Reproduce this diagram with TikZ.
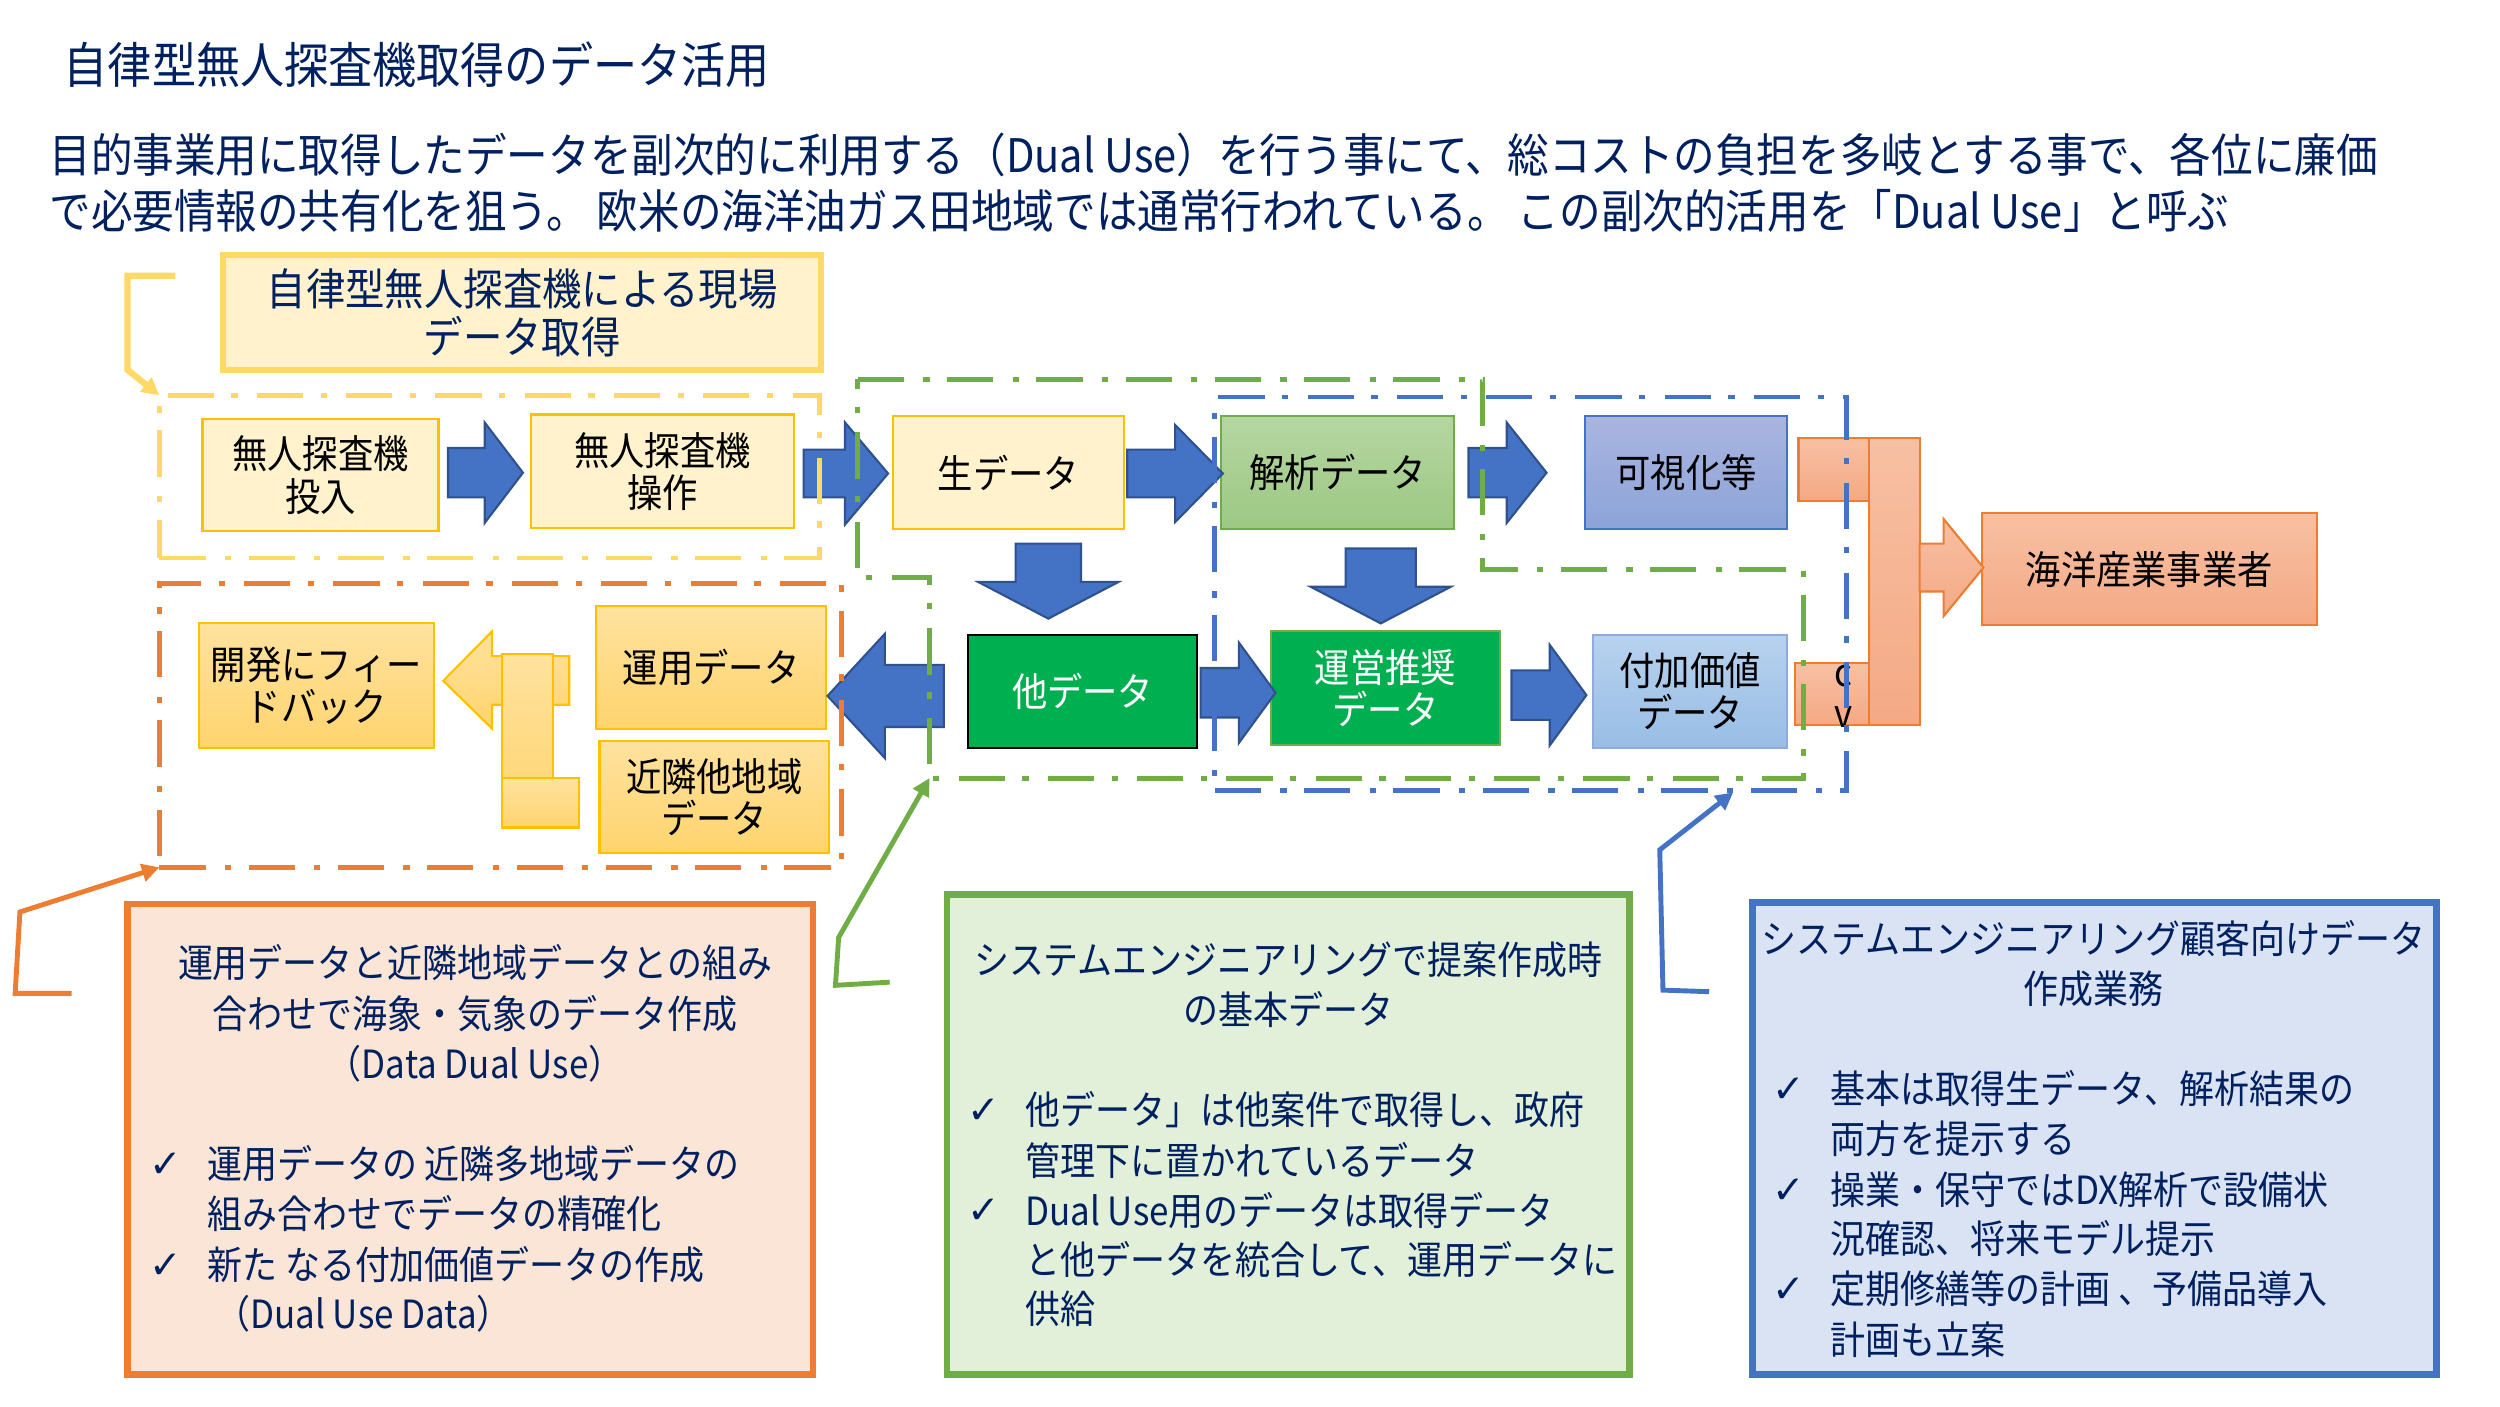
\documentclass[tikz,border=0pt]{standalone}
\usepackage{fontspec}
\setmainfont[FakeStretch=0.9]{Noto Sans CJK JP}
\newfontfamily\chkfont{DejaVu Sans}
\usetikzlibrary{calc,arrows.meta}
\definecolor{cNavy}{HTML}{002060}
\definecolor{cYel}{HTML}{FFD966}
\definecolor{cGold}{HTML}{FFC000}
\definecolor{cCream}{HTML}{FFF2CC}
\definecolor{cOrg}{HTML}{ED7D31}
\definecolor{cGrn}{HTML}{70AD47}
\definecolor{cBlu}{HTML}{4472C4}
\definecolor{cBluD}{HTML}{2F528F}
\definecolor{cDG}{HTML}{00B050}
\definecolor{cOFill}{HTML}{FBE5D6}
\definecolor{cGFill}{HTML}{E2F0D9}
\definecolor{cBFill}{HTML}{DAE3F3}
\definecolor{anaT}{HTML}{B5D6A1}
\definecolor{anaB}{HTML}{9CC883}
\definecolor{visT}{HTML}{AAB5E0}
\definecolor{visB}{HTML}{8CA3D8}
\definecolor{addT}{HTML}{B8D2EE}
\definecolor{addB}{HTML}{98BDE5}
\definecolor{goldT}{HTML}{FFE29E}
\definecolor{goldB}{HTML}{FFD46E}
\definecolor{salT}{HTML}{F7C0A2}
\definecolor{salB}{HTML}{F4A985}
\newcommand\mycheck{{\chkfont ✓}}
% block arrow: #1 origin (tail centre), #2 rotation, #3 length, #4 shaft half, #5 head half, #6 head length, #7 style
\newcommand\BArrow[7]{\path[#7,shift={#1},rotate=#2] (0,-#4) -- ({#3-#6},-#4) -- ({#3-#6},-#5) -- (#3,0) -- ({#3-#6},#5) -- ({#3-#6},#4) -- (0,#4) -- cycle;}
\tikzset{
  every node/.style={inner sep=0pt,outer sep=0pt},
  sz/.style 2 args={minimum width=#1*0.016cm,minimum height=#2*0.016cm},
  tx/.style={text=cNavy,text height=0.88em,text depth=0.12em},
  inbox/.style={align=center,text=black,line width=0.6pt,font=\fontsize{11.2}{12}\selectfont},
  ybox/.style={inbox,draw=cGold,fill=cCream},
  anabox/.style={inbox,draw=cGrn,top color=anaT,bottom color=anaB},
  visbox/.style={inbox,draw=cBlu,top color=visT,bottom color=visB},
  addbox/.style={inbox,draw=cBlu!60,top color=addT,bottom color=addB},
  dgbox/.style={inbox,fill=cDG,text=white},
  goldbox/.style={inbox,draw=cGold,top color=goldT,bottom color=goldB},
  salbox/.style={inbox,draw=cOrg,top color=salT,bottom color=salB},
  goldshape/.style={draw=cGold,line width=0.6pt,top color=goldT,bottom color=goldB},
  salshape/.style={draw=cOrg,line width=0.6pt,top color=salT,bottom color=salB},
  barrow/.style={fill=cBlu,draw=cBluD,line width=0.6pt},
  ddline/.style={line width=1.4pt,dash pattern=on 13.2pt off 5.5pt on 1.8pt off 5pt},
  bt/.style={tx,font=\fontsize{11.1}{12}\selectfont},
  ck/.style={text=cNavy,font=\fontsize{11.1}{12}\selectfont},
  conn/.style={line width=1.4pt,-{Triangle[length=5pt,width=5pt]}}
}
\begin{document}
\begin{tikzpicture}[x=0.016cm,y=-0.016cm]
\fill[white] (0,0) rectangle (1568,882);
\path[use as bounding box] (0,0) rectangle (1568,882);

% heading and paragraph
\node[tx,anchor=west,font=\fontsize{14}{16}\selectfont] (title) at (40,44) {自律型無人探査機取得のデータ活用};
\node[tx,anchor=west,font=\fontsize{13.2}{15}\selectfont] (para1) at (31,100) {目的事業用に取得したデータを副次的に利用する（Dual Use）を行う事にて、総コストの負担を多岐とする事で、各位に廉価};
\node[tx,anchor=west,font=\fontsize{13.2}{15}\selectfont] (para2) at (31,135) {で必要情報の共有化を狙う。 欧米の海洋油ガス田地域では通常行われている。 この副次的活用を「Dual Use」と呼ぶ};

% title box
\node[draw=cYel,fill=cCream,line width=1.8pt,sz={375}{72},align=center,text=cNavy,font=\fontsize{12.5}{13.7}\selectfont] (ttlbox) at (327.5,196) {自律型無人探査機による現場\\データ取得};

% process boxes
\node[ybox,sz={148}{70}] (launch) at (201,298) {無人探査機\\投入};
\node[ybox,sz={165}{71}] (oper) at (415.5,295.5) {無人探査機\\操作};
\node[ybox,sz={145}{71}] (raw) at (632.5,296.5) {生データ};
\node[anabox,sz={146}{71}] (ana) at (839,296.5) {解析データ};
\node[visbox,sz={127}{71}] (vis) at (1057.5,296.5) {可視化等};
\node[dgbox,draw=black,sz={144}{71}] (other) at (679,433.5) {他データ};
\node[dgbox,draw=cGrn,sz={144}{71}] (rec) at (869,431.5) {運営推奨\\データ};
\node[addbox,sz={122}{71}] (added) at (1060,433.5) {付加価値\\データ};
\node[goldbox,sz={147}{78}] (feed) at (198.5,430) {開発にフィー\\ドバック};
\node[goldbox,sz={144}{77}] (opdata) at (446,418.5) {運用データ};
\node[goldbox,sz={144}{70}] (near) at (448,500) {近隣他地域\\データ};
\node[salbox,sz={210}{70}] (sea) at (1348,357) {海洋産業事業者};

% block arrows
\BArrow{($(launch.east)+(6,-1.5)$)}{0}{47}{15.5}{31.5}{24}{barrow}
\BArrow{($(oper.east)+(6,1.5)$)}{0}{53}{15}{32}{27}{barrow}
\BArrow{($(raw.east)+(2,0.5)$)}{0}{60}{15}{30.5}{30}{barrow}
\BArrow{($(ana.east)+(9,0)$)}{0}{49}{15.5}{31.5}{25}{barrow}
\BArrow{($(raw.south)+(25,9)$)}{-90}{47}{20.5}{44}{23}{barrow}
\BArrow{($(ana.south)+(27,12)$)}{-90}{47}{22}{44}{23}{barrow}
\BArrow{($(other.east)+(2,1)$)}{0}{47}{15.5}{31.5}{23}{barrow}
\BArrow{($(rec.east)+(7,4.5)$)}{0}{47}{15.5}{31.5}{23}{barrow}
\BArrow{($(other.west)+(-15,3)$)}{180}{73}{19.5}{39}{36}{barrow}

% gold bent arrow (operational + nearby data -> feedback)
\path[goldshape] (357,411.5) -- (308.6,411.5) -- (308.6,396) -- (278,427) -- (308.6,457) -- (308.6,442) -- (357,442) -- cycle;
\path[goldshape] (315,410) rectangle (347,519);
\path[goldshape] (315,488) rectangle (363,519);

% salmon merge arrow
\path[salshape] (1126,416) rectangle (1185,455);
\path[salshape] (1128,275) rectangle (1172,314);
\path[salshape] (1172,275) rectangle (1204,455);
\BArrow{($(sea.west)+(-39,-1)$)}{0}{40}{15}{30.5}{25}{salshape}
\node[text=black,font=\fontsize{11}{12}\selectfont] (cc) at (1156,424) {c};
\node[text=black,font=\fontsize{11}{12}\selectfont] (vv) at (1156,450) {v};

% dash-dot regions
\node[draw=cYel,ddline,sz={414}{102}] (yreg) at (307,299) {};
\node[draw=cOrg,ddline,sz={428}{178}] (oreg) at (314,455) {};
\node[draw=cBlu,ddline,sz={396}{247}] (breg) at (960,372.5) {};
\coordinate (gA) at (538,238);
\coordinate (gB) at (930,238);
\coordinate (gC) at (930,357);
\coordinate (gD) at (1131,357);
\coordinate (gE) at (1131,488);
\coordinate (gF) at (583,488);
\coordinate (gG) at (583,362);
\coordinate (gH) at (538,362);
\draw[draw=cGrn,ddline] (gA) -- (gB) -- (gC) -- (gD) -- (gE) -- (gF) -- (gG) -- (gH) -- cycle;

% bottom boxes
\node[draw=cOrg,fill=cOFill,line width=1.9pt,sz={430}{295}] (obox) at (295,714.5) {};
\node[draw=cGrn,fill=cGFill,line width=1.9pt,sz={428}{301}] (gbox) at (808,711.5) {};
\node[draw=cBlu,fill=cBFill,line width=1.9pt,sz={429}{296}] (bbox) at (1313.5,714) {};

\node[bt] (o1) at (298,605) {運用データと近隣地域データとの組み};
\node[bt] (o2) at (298,637) {合わせで海象・気象のデータ作成};
\node[bt] (o3) at (298,668) {（Data Dual Use）};
\node[ck] (oc1) at (104,731) {\mycheck};
\node[bt,anchor=west] (o4) at (130,731) {運用データの 近隣多地域データの};
\node[bt,anchor=west] (o5) at (130,762) {組み合わせでデータの精確化};
\node[ck] (oc2) at (104,794) {\mycheck};
\node[bt,anchor=west] (o6) at (130,794) {新た なる付加価値データの作成};
\node[bt,anchor=west] (o7) at (135,825) {（Dual Use Data）};

\node[bt] (g1t) at (808,603) {システムエンジニアリングで提案作成時};
\node[bt] (g2t) at (808,634) {の基本データ};
\node[ck] (gc1) at (617,697) {\mycheck};
\node[bt,anchor=west] (g3t) at (643,697) {他データ」は他案件で取得し、政府};
\node[bt,anchor=west] (g4t) at (643,729) {管理下に置かれているデータ};
\node[ck] (gc2) at (617,760) {\mycheck};
\node[bt,anchor=west] (g5t) at (643,760) {Dual Use用のデータは取得データ};
\node[bt,anchor=west] (g6t) at (643,791) {と他データを統合して、運用データに};
\node[bt,anchor=west] (g7t) at (643,822) {供給};

\node[bt] (b1t) at (1313,590) {システムエンジニアリング顧客向けデータ};
\node[bt] (b2t) at (1313,621) {作成業務};
\node[ck] (bc1) at (1122,684) {\mycheck};
\node[bt,anchor=west] (b3t) at (1148,684) {基本は取得生データ、解析結果の};
\node[bt,anchor=west] (b4t) at (1148,715) {両方を提示する};
\node[ck] (bc2) at (1122,747) {\mycheck};
\node[bt,anchor=west] (b5t) at (1148,747) {操業・保守ではDX解析で設備状};
\node[bt,anchor=west] (b6t) at (1148,778) {況確認、将来モデル提示};
\node[ck] (bc3) at (1122,809) {\mycheck};
\node[bt,anchor=west] (b7t) at (1148,809) {定期修繕等の計画 、予備品導入};
\node[bt,anchor=west] (b8t) at (1148,841) {計画も立案};

% connectors
\coordinate (ystart) at (110,173);
\draw[conn,line width=1.8pt,color=cYel] (ystart) -- (80,173) -- (80,232) -- (yreg.north west);
\coordinate (ostart) at (45,623);
\draw[conn,color=cOrg] (ostart) -- (9.5,623) -- (12.5,572) -- (oreg.south west);
\coordinate (gstart) at (558,616);
\draw[conn,color=cGrn] (gstart) -- (524,618) -- (526,588) -- (gF);
\coordinate (bstart) at (1072,622);
\draw[conn,color=cBlu] (bstart) -- (1043,621) -- (1041,533) -- ($(breg.south)+(127,1)$);
\end{tikzpicture}
\end{document}
